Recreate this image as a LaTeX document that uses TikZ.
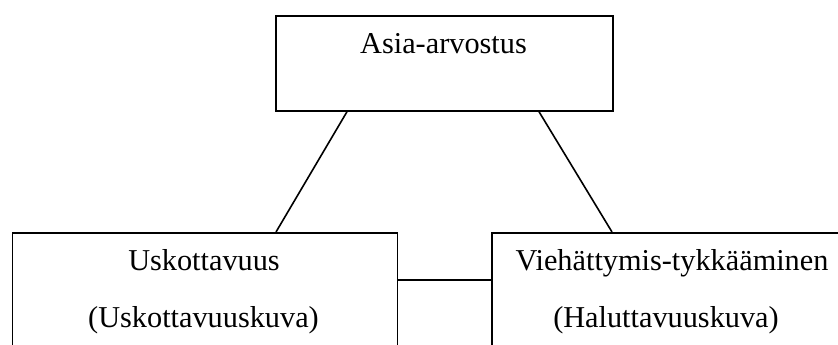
\documentclass[tikz,border=0pt]{standalone}
\usepackage{fontspec}
\setmainfont{Liberation Serif}
\begin{document}
\begin{tikzpicture}[x=1pt,y=-1pt,
  box/.style={draw,line width=1.7pt,rectangle,inner sep=0pt,anchor=north west},
  lbl/.style={inner sep=0pt,anchor=base,font=\fontsize{30.3}{34}\selectfont},
  link/.style={line width=1.6pt}]
\useasboundingbox (0,0) rectangle (838,345);
\clip (0,0) rectangle (838,345);
\node[box,minimum width=337pt,minimum height=95pt] (top) at (275,15) {};
\node[box,minimum width=385pt,minimum height=160pt] (left) at (11.5,232) {};
\node[box,minimum width=380pt,minimum height=160pt] (right) at (491,232) {};
\node[lbl] (t1) at (443.5,54) {Asia-arvostus};
\node[lbl] (l1) at (204,270.5) {Uskottavuus};
\node[lbl] (l2) at (203.5,327.5) {(Uskottavuuskuva)};
\node[lbl] (r1) at (672,270.5) {Viehättymis-tykkääminen};
\node[lbl] (r2) at (666,327.5) {(Haluttavuuskuva)};
\coordinate (a1) at ([xshift=72pt]top.south west);
\coordinate (a2) at ([xshift=264.5pt]left.north west);
\coordinate (b1) at ([xshift=264pt]top.south west);
\coordinate (b2) at ([xshift=121pt]right.north west);
\coordinate (c1) at ([yshift=-48pt]left.north east);
\draw[link] (a1) -- (a2);
\draw[link] (b1) -- (b2);
\draw[link] (c1) -- (c1 -| right.west);
\end{tikzpicture}
\end{document}
